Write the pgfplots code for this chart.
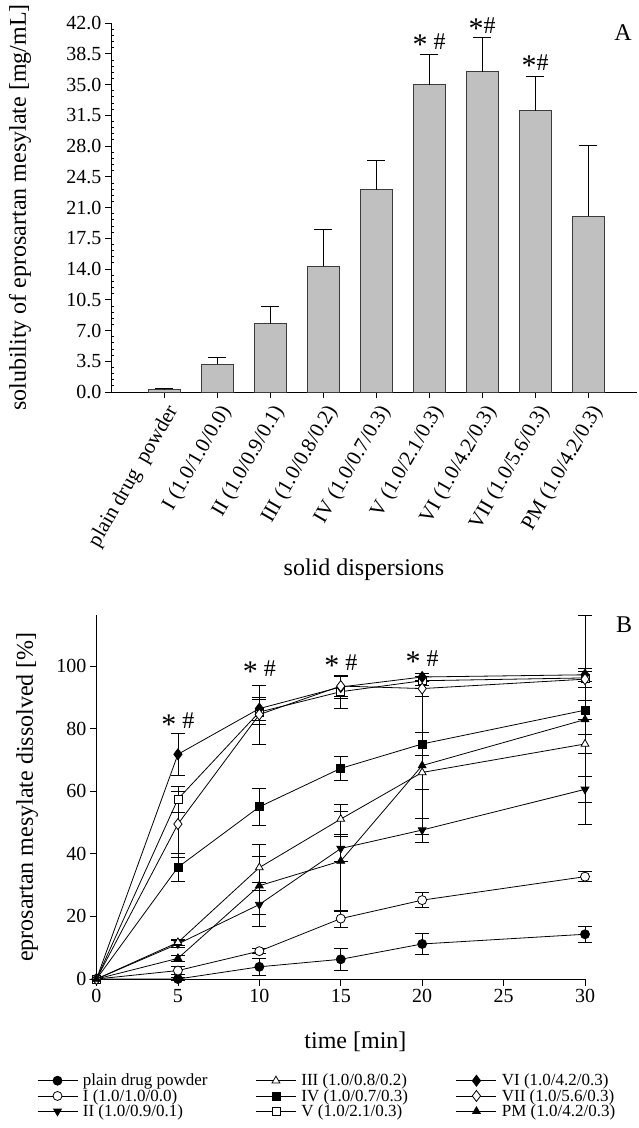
\documentclass[border=0pt]{standalone}
\usepackage{fontspec}
\setmainfont{Liberation Serif}
\usepackage{pgfplots}
\pgfplotsset{compat=1.18}
\newcommand{\tk}{\fontsize{20}{24}\selectfont}
\newcommand{\xtk}{\fontsize{21}{24}\selectfont}
\newcommand{\lb}{\fontsize{24}{28}\selectfont}
\newcommand{\lgf}{\fontsize{17}{19}\selectfont}
\newcommand{\st}{\raisebox{-0.22em}{\fontsize{30}{30}\selectfont *}}
\definecolor{barfill}{RGB}{192,192,192}
\definecolor{bardraw}{RGB}{60,60,60}
\pgfplotstableread{
x y e
0 0.25 0.15
1 3.14 0.80
2 7.76 1.96
3 14.34 4.12
4 23.04 3.33
5 35.00 3.44
6 36.44 3.93
7 32.00 3.94
8 20.00 8.04
}\solA
\pgfplotsset{bst/.style={black, line width=0.8pt, mark size=4.5pt,
  error bars/y dir=both, error bars/y explicit,
  error bars/error mark options={black, mark size=7pt, line width=0.8pt, rotate=90},
  error bars/error bar style={black, line width=0.8pt}}}
\begin{document}
\begin{tikzpicture}
\path[use as bounding box] (0,0) rectangle (638pt,-1128pt);
\begin{axis}[at={(111pt,-392pt)}, anchor=south west, scale only axis,
  width=526pt, height=369pt, clip=false,
  xmin=-1, xmax=8.92, ymin=0, ymax=42,
  axis x line*=bottom, axis y line*=left,
  axis line style={line width=0.8pt, -},
  ytick={0,3.5,7,10.5,14,17.5,21,24.5,28,31.5,35,38.5,42},
  minor y tick num=4,
  yticklabel style={/pgf/number format/.cd, fixed, fixed zerofill, precision=1, assume math mode=true},
  tick label style={font=\tk},
  tick align=outside, major tick length=6pt, minor tick length=3pt,
  tick style={line width=0.8pt, black},
  every minor tick/.append style={xshift=3pt},
  xtick={0,...,8},
  xticklabels={plain drug\ \ powder, I (1.0/1.0/0.0), II (1.0/0.9/0.1), III (1.0/0.8/0.2), IV (1.0/0.7/0.3), V (1.0/2.1/0.3), VI (1.0/4.2/0.3), VII (1.0/5.6/0.3), PM (1.0/4.2/0.3)},
  x tick label style={rotate=60, anchor=north east, font=\xtk},
  xlabel={solid dispersions},
  xlabel style={at={(axis description cs:0.481,-0.482)}, anchor=center, font=\lb},
  ylabel={solubility of eprosartan mesylate [mg/mL]},
  ylabel style={at={(axis description cs:-0.173,0.5)}, anchor=center, font=\lb},
  ybar, bar width=32pt,
]
\addplot[fill=barfill, draw=bardraw, line width=0.9pt,
  error bars/y dir=plus, error bars/y explicit,
  error bars/error mark options={black, mark size=9pt, line width=0.9pt, rotate=90},
  error bars/error bar style={black, line width=0.9pt}]
  table[x=x, y=y, y error=e] {\solA};
\node[font=\lb] at (axis cs:5,39.6) {\st\ \#};
\node[font=\lb] at (axis cs:6,41.4) {\st\#};
\node[font=\lb] at (axis cs:7,37.2) {\st\#};
\end{axis}
\node[font=\lb] at (623pt,-33pt) {A};
\node[font=\lb] at (624pt,-625pt) {B};
\begin{axis}[at={(96.5pt,-979pt)}, anchor=south west, scale only axis,
  width=488.5pt, height=364pt, clip=false,
  xmin=0, xmax=30, ymin=0, ymax=116.3,
  axis x line*=bottom, axis y line*=left,
  axis line style={line width=0.8pt, -},
  xtick={0,5,10,15,20,25,30}, ytick={0,20,40,60,80,100},
  tick label style={font=\tk, /pgf/number format/assume math mode=true},
  tick align=outside, major tick length=6.5pt,
  tick style={line width=0.8pt, black},
  xlabel={time [min]},
  xlabel style={at={(axis description cs:0.53,-0.173)}, anchor=center, font=\lb},
  ylabel={eprosartan mesylate dissolved [\%]},
  ylabel style={at={(axis description cs:-0.142,0.5)}, anchor=center, font=\lb},
  legend columns=3, transpose legend,
  legend style={at={(axis description cs:-0.122,-0.255)}, anchor=north west, draw=none, font=\lgf,
    inner sep=0pt, row sep=-2pt,
    /tikz/every odd column/.append style={column sep=3pt},
    /tikz/every even column/.append style={column sep=46pt}},
  legend cell align=left,
  legend image code/.code={\draw[mark repeat=2, mark phase=2, #1] plot coordinates {(0pt,0pt) (20pt,0pt) (40pt,0pt)};},
]
\addplot[bst, mark=*] coordinates {
(0,0) +- (0,0) (5,0) +- (0,0.5) (10,3.9) +- (0,2.7) (15,6.3) +- (0,3.5) (20,11.2) +- (0,3.4) (30,14.3) +- (0,2.5)};
\addlegendentry{plain drug powder}
\addplot[bst, mark=*, mark options={fill=white}] coordinates {
(0,0) +- (0,0) (5,2.7) +- (0,1.3) (10,8.9) +- (0,0.8) (15,19.3) +- (0,2.7) (20,25.2) +- (0,2.4) (30,32.7) +- (0,1.6)};
\addlegendentry{I (1.0/1.0/0.0)}
\addplot[bst, mark=triangle*, mark options={rotate=180}] coordinates {
(0,0) +- (0,0) (5,11.2) +- (0,1.0) (10,23.8) +- (0,7.0) (15,41.7) +- (0,4.0) (20,47.6) +- (0,3.8) (30,60.6) +- (0,4.1)};
\addlegendentry{II (1.0/0.9/0.1)}
\addplot[bst, mark=triangle*, mark options={fill=white}] coordinates {
(0,0) +- (0,0) (5,11.7) +- (0,1.0) (10,35.6) +- (0,7.4) (15,51.1) +- (0,4.8) (20,66.0) +- (0,5.4) (30,75.1) +- (0,3.0)};
\addlegendentry{III (1.0/0.8/0.2)}
\addplot[bst, mark=square*, mark size=4pt] coordinates {
(0,0) +- (0,0) (5,35.7) +- (0,4.5) (10,55.0) +- (0,6.0) (15,67.3) +- (0,3.8) (20,75.1) +- (0,3.6) (30,85.9) +- (0,3.0)};
\addlegendentry{IV (1.0/0.7/0.3)}
\addplot[bst, mark=square*, mark size=4pt, mark options={fill=white}] coordinates {
(0,0) +- (0,0) (5,57.5) +- (0,4.2) (10,85.3) +- (0,4.0) (15,91.8) +- (0,5.3) (20,95.3) +- (0,1.5) (30,96.2) +- (0,3.0)};
\addlegendentry{V (1.0/2.1/0.3)}
\addplot[bst, mark=diamond*, mark size=5.5pt] coordinates {
(0,0) +- (0,0) (5,71.8) +- (0,6.8) (10,86.4) +- (0,3.7) (15,93.3) +- (0,3.5) (20,96.5) +- (0,1.3) (30,97.2) +- (0,2.0)};
\addlegendentry{VI (1.0/4.2/0.3)}
\addplot[bst, mark=diamond*, mark size=5.5pt, mark options={fill=white}] coordinates {
(0,0) +- (0,0) (5,49.5) +- (0,10.5) (10,84.5) +- (0,9.4) (15,93.6) +- (0,3.2) (20,92.8) +- (0,2.5) (30,95.8) +- (0,2.5)};
\addlegendentry{VII (1.0/5.6/0.3)}
\addplot[bst, mark=triangle*] coordinates {
(0,0) +- (0,0) (5,6.6) +- (0,1.0) (10,29.8) +- (0,9.3) (15,37.7) +- (0,16.0) (20,68.2) +- (0,22.0) (30,82.9) +- (0,33.4)};
\addlegendentry{PM (1.0/4.2/0.3)}
\node[font=\lb] at (axis cs:5,81.6) {\st\ \#};
\node[font=\lb] at (axis cs:10,98.4) {\st\ \#};
\node[font=\lb] at (axis cs:15,100.2) {\st\ \#};
\node[font=\lb] at (axis cs:20,101.5) {\st\ \#};
\end{axis}
\end{tikzpicture}
\end{document}
